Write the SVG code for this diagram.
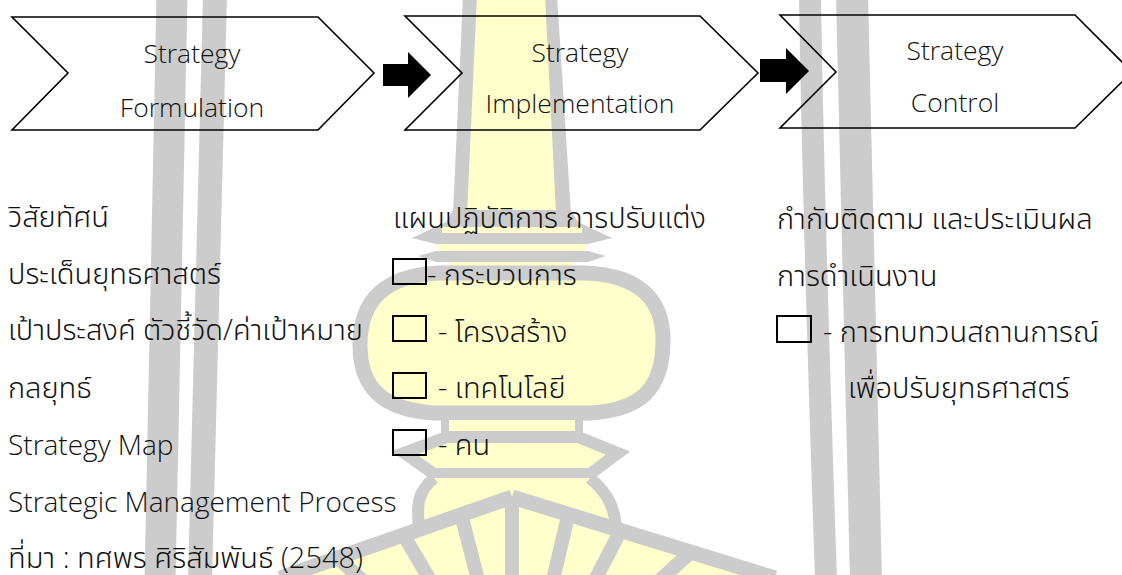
<svg xmlns="http://www.w3.org/2000/svg" width="1122" height="575" viewBox="0 0 1122 575">
  <style>
    .wm-g { fill: #cccccc; }
    .wm-y { fill: #ffffcc; }
    .wm-line { stroke: #cccccc; fill: none; }
    .chev { fill: none; stroke: #000; stroke-width: 1.6; stroke-linejoin: miter; }
    .arrow { fill: #000; }
    .box { fill: none; stroke: #000; stroke-width: 2; }
    .t { font-family: "Open Sans", "Noto Sans", "Noto Sans Thai", "Leelawadee UI", Loma, Garuda, sans-serif; font-size: 29px; fill: #111; font-weight: 300; }
    .en { font-size: 28px; }
    .c { font-family: "Open Sans", "Noto Sans", sans-serif; font-size: 26.5px; fill: #111; font-weight: 300; text-anchor: middle; }
  </style>

  <!-- background emblem -->
  <g id="emblem">
    <!-- side bands -->
    <path class="wm-line" stroke-width="31" d="M172,-5 C169,200 163,400 160,580"/>
    <path class="wm-line" stroke-width="24" d="M215,-5 C211,200 203,400 200,580"/>
    <path class="wm-line" stroke-width="22" d="M810,-5 C813,200 820,400 826,580"/>
    <path class="wm-line" stroke-width="32" d="M852,-5 C856,200 861,400 866,580"/>
    <!-- spire -->
    <polygon class="wm-g" points="463,-5 557,-5 571,214 453,214"/>
    <polygon class="wm-y" points="477,-5 545,-5 556,214 467,214"/>
    <!-- collar ledges -->
    <polygon class="wm-g" points="453,210 571,210 578,222 612,238 580,246 444,246 412,238 446,222"/>
    <rect class="wm-y" x="442" y="227" width="140" height="6"/>
    <rect class="wm-y" x="438" y="244" width="148" height="7"/>
    <polygon class="wm-g" points="436,251 588,251 606,256 588,262 436,262 418,256"/>
    <rect class="wm-y" x="450" y="262" width="124" height="5"/>
    <!-- bulb -->
    <path class="wm-y" stroke="#cccccc" stroke-width="15" d="M440,273 L585,273 C640,275 663,300 663,340 C663,390 640,410 590,413 L435,413 C385,410 360,390 360,345 C360,300 385,275 440,273 Z"/>
    <!-- neck -->
    <rect class="wm-y" x="445" y="420" width="134" height="16"/>
    <rect class="wm-g" x="441" y="420" width="8" height="16"/>
    <rect class="wm-g" x="575" y="420" width="8" height="16"/>
    <polygon class="wm-y" stroke="#cccccc" stroke-width="12" points="447,437 578,437 618,453 590,474 434,474 404,453"/>
    <!-- base -->
    <path class="wm-y" d="M434,478 L590,478 C610,495 615,510 616,530 L512,497 L419,530 C418,510 414,495 434,478 Z"/>
    <path class="wm-line" stroke-width="12" d="M434,478 C414,495 418,510 419,530 M590,478 C610,495 615,510 616,530"/>
    <!-- fan of rays -->
    <polygon class="wm-y" points="512,497 285,575 770,575"/>
    <path class="wm-line" stroke-width="15" d="M512,497 L280,578 M512,497 L775,578"/>
    <path class="wm-line" stroke-width="14" d="M403,534 L430,580 M461,514 L478,580 M512,497 L512,580 M568,516 L553,580 M620,532 L595,580 M340,560 L362,580 M690,553 L660,580"/>
  </g>

  <!-- process stages -->
  <g id="formulation">
    <polygon class="chev" points="12,17 318,17 374,73 318,130 12,130 68,73"/>
    <text class="c" x="192" y="63">Strategy</text>
    <text class="c" x="192" y="117">Formulation</text>
  </g>
  <g id="implementation">
    <polygon class="chev" points="405,16 700,16 758,73 700,130 405,130 462,73"/>
    <text class="c" x="580" y="62">Strategy</text>
    <text class="c" x="580" y="113">Implementation</text>
  </g>
  <g id="control">
    <polygon class="chev" points="780,15 1075,15 1132,72 1075,128 780,128 836,72"/>
    <text class="c" x="955" y="60">Strategy</text>
    <text class="c" x="955" y="112">Control</text>
  </g>

  <!-- connectors between stages -->
  <g id="connectors">
    <polygon class="arrow" points="383,64 408,64 408,52 431,75 408,98 408,86 383,86"/>
    <polygon class="arrow" points="760,59 786,59 786,48 809,71 786,94 786,82 760,82"/>
  </g>

  <!-- formulation details -->
  <g id="formulation-list">
    <text class="t" x="8" y="227">วิสัยทัศน์</text>
    <text class="t" x="8" y="284">ประเด็นยุทธศาสตร์</text>
    <text class="t" x="8" y="340">เป้าประสงค์ ตัวชี้วัด/ค่าเป้าหมาย</text>
    <text class="t" x="8" y="398">กลยุทธ์</text>
    <text class="t en" x="8" y="455">Strategy Map</text>
    <text class="t en" x="8" y="512">Strategic Management Process</text>
    <text class="t" x="8" y="568">ที่มา : ทศพร ศิริสัมพันธ์ (2548)</text>
  </g>

  <!-- implementation details -->
  <g id="implementation-list">
    <text class="t" x="393" y="228">แผนปฏิบัติการ การปรับแต่ง</text>
    <rect class="box" x="393" y="259" width="33" height="25"/>
    <text class="t" x="427" y="285">- กระบวนการ</text>
    <rect class="box" x="393" y="316" width="33" height="25"/>
    <text class="t" x="438" y="342">- โครงสร้าง</text>
    <rect class="box" x="393" y="373" width="33" height="25"/>
    <text class="t" x="438" y="398">- เทคโนโลยี</text>
    <rect class="box" x="393" y="430" width="33" height="25"/>
    <text class="t" x="438" y="455">- คน</text>
  </g>

  <!-- control details -->
  <g id="control-list">
    <text class="t" x="777" y="229">กำกับติดตาม และประเมินผล</text>
    <text class="t" x="777" y="286">การดำเนินงาน</text>
    <rect class="box" x="777" y="316" width="34" height="26"/>
    <text class="t" x="823" y="342">- การทบทวนสถานการณ์</text>
    <text class="t" x="848" y="398">เพื่อปรับยุทธศาสตร์</text>
  </g>
</svg>
